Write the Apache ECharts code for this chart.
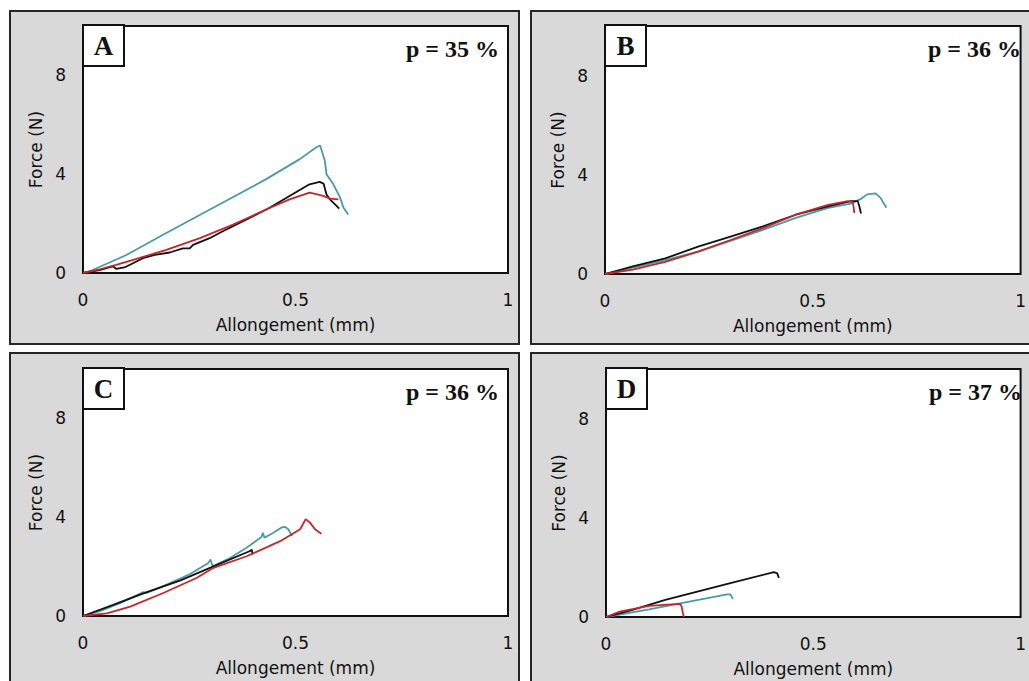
<!DOCTYPE html>
<html>
<head>
<meta charset="utf-8">
<script src="https://cdn.jsdelivr.net/npm/echarts@6.0.0/dist/echarts.min.js"></script>
<style>
html,body{margin:0;padding:0;background:#fff;}
#c{width:1029px;height:681px;}
</style>
</head>
<body>
<div id="c"></div>
<script>
// ---- data (Allongement mm, Force N) ----
const panelLetters = ['A', 'B', 'C', 'D'];
const panelPorosity = ['p = 35 %', 'p = 36 %', 'p = 36 %', 'p = 37 %'];
const xTicks = [0, 0.5, 1];
const yTicks = [0, 4, 8];

const aTeal = [[0,0],[0.02,0.1],[0.102,0.73],[0.196,1.62],[0.314,2.71],[0.431,3.80],[0.51,4.61],[0.549,5.09],[0.558,5.16],[0.569,4.54],[0.573,4.0],[0.589,3.59],[0.605,3.05],[0.613,2.64],[0.624,2.37]];
const aBlack = [[0,0],[0.039,0.12],[0.07,0.27],[0.078,0.17],[0.1,0.24],[0.141,0.60],[0.169,0.73],[0.204,0.83],[0.235,1.0],[0.251,1.0],[0.259,1.14],[0.298,1.41],[0.329,1.69],[0.392,2.23],[0.439,2.64],[0.486,3.12],[0.533,3.59],[0.557,3.69],[0.566,3.62],[0.573,3.18],[0.581,2.98],[0.593,2.78],[0.603,2.61]];
const aRed = [[0,0],[0.039,0.15],[0.078,0.33],[0.118,0.53],[0.196,0.94],[0.275,1.41],[0.353,1.96],[0.431,2.57],[0.486,2.98],[0.533,3.25],[0.549,3.19],[0.565,3.12],[0.581,3.01],[0.601,2.98]];

const bTeal = [[0,0],[0.067,0.26],[0.145,0.56],[0.224,0.90],[0.302,1.33],[0.38,1.78],[0.459,2.26],[0.537,2.67],[0.592,2.84],[0.616,3.03],[0.631,3.21],[0.651,3.25],[0.663,3.07],[0.677,2.67]];
const bBlack = [[0,0],[0.067,0.31],[0.145,0.63],[0.224,1.10],[0.302,1.51],[0.38,1.92],[0.459,2.39],[0.537,2.73],[0.592,2.94],[0.608,2.94],[0.612,2.73],[0.616,2.44]];
const bRed = [[0,0],[0.067,0.18],[0.145,0.49],[0.224,0.90],[0.302,1.37],[0.38,1.85],[0.459,2.39],[0.537,2.79],[0.584,2.94],[0.596,2.90],[0.598,2.73],[0.6,2.46]];

const cTeal = [[0,0],[0.04,0.20],[0.087,0.52],[0.142,0.97],[0.15,0.93],[0.197,1.27],[0.252,1.70],[0.295,2.15],[0.3,2.29],[0.305,2.01],[0.346,2.35],[0.385,2.76],[0.42,3.2],[0.423,3.37],[0.427,3.17],[0.448,3.37],[0.467,3.58],[0.475,3.61],[0.483,3.51],[0.492,3.24]];
const cBlack = [[0,0],[0.071,0.45],[0.15,0.97],[0.228,1.43],[0.307,2.01],[0.393,2.63],[0.397,2.69],[0.399,2.49]];
const cRed = [[0,0],[0.056,0.11],[0.111,0.38],[0.189,0.93],[0.267,1.54],[0.307,1.95],[0.385,2.42],[0.464,3.03],[0.511,3.51],[0.524,3.92],[0.534,3.78],[0.546,3.51],[0.554,3.41],[0.561,3.33]];

const dTeal = [[0,0],[0.104,0.31],[0.182,0.56],[0.292,0.91],[0.3,0.91],[0.306,0.72]];
const dBlack = [[0,0],[0.064,0.29],[0.143,0.69],[0.3,1.37],[0.405,1.81],[0.413,1.76],[0.417,1.58]];
const dRed = [[0,0],[0.033,0.22],[0.104,0.45],[0.178,0.53],[0.182,0.45],[0.186,0.12],[0.188,0]];

const panelSeries = [
  [aTeal, aBlack, aRed],
  [bTeal, bBlack, bRed],
  [cTeal, cBlack, cRed],
  [dTeal, dBlack, dRed]
];

// ---- layout & style ----
const colors = ['#4a9aa6', '#111111', '#c0282d'];
const boxes = [
  {x: 10, y: 11, w: 509, h: 333},
  {x: 531, y: 11, w: 520, h: 333},
  {x: 10, y: 353, w: 509, h: 340},
  {x: 531, y: 353, w: 520, h: 340}
];
const plots = [
  {left: 83, top: 26, width: 425, height: 247},
  {left: 605, top: 26, width: 425, height: 248},
  {left: 83, top: 369, width: 425, height: 247},
  {left: 606, top: 369, width: 425, height: 248}
];
const tickFont = 'DejaVu Sans';

const grid = [], xAxis = [], yAxis = [], series = [], graphic = [];
plots.forEach((p, i) => {
  grid.push({left: p.left, top: p.top, width: p.width, height: p.height,
    show: true, backgroundColor: '#ffffff', borderColor: '#111', borderWidth: 2, containLabel: false});
  xAxis.push({type: 'value', gridIndex: i, min: xTicks[0], max: xTicks[xTicks.length - 1], interval: xTicks[1] - xTicks[0],
    axisLine: {show: false}, axisTick: {show: false}, splitLine: {show: false},
    axisLabel: {color: '#111', fontFamily: tickFont, fontSize: 17, margin: 18},
    name: 'Allongement (mm)', nameLocation: 'middle', nameGap: 43,
    nameTextStyle: {color: '#111', fontFamily: tickFont, fontSize: 17}});
  yAxis.push({type: 'value', gridIndex: i, min: 0, max: 10, interval: yTicks[1] - yTicks[0],
    axisLine: {show: false}, axisTick: {show: false}, splitLine: {show: false},
    axisLabel: {color: '#111', fontFamily: tickFont, fontSize: 17, margin: 17, showMaxLabel: false},
    name: 'Force (N)', nameLocation: 'middle', nameGap: 39,
    nameTextStyle: {color: '#111', fontFamily: tickFont, fontSize: 17}});
  panelSeries[i].forEach((d, k) => {
    series.push({type: 'line', xAxisIndex: i, yAxisIndex: i, data: d, showSymbol: false, symbol: 'none',
      smooth: false, lineStyle: {color: colors[k], width: 1.8}, z: 3 + k, silent: true, animation: false});
  });
  const b = boxes[i];
  graphic.push({type: 'rect', z: -5, silent: true, shape: {x: b.x, y: b.y, width: b.w, height: b.h},
    style: {fill: '#d9d9d9', stroke: '#262626', lineWidth: 2}});
  graphic.push({type: 'rect', z: 50, silent: true, shape: {x: p.left, y: p.top - 1, width: 41, height: 41},
    style: {fill: '#ffffff', stroke: '#111', lineWidth: 2}});
  graphic.push({type: 'text', z: 51, silent: true, x: p.left + 20.5, y: p.top + 20,
    style: {text: panelLetters[i], fill: '#111', font: 'bold 27px "Liberation Serif"', textAlign: 'center', textVerticalAlign: 'middle'}});
  graphic.push({type: 'text', z: 51, silent: true, x: p.left + 416, y: p.top + 23,
    style: {text: panelPorosity[i], fill: '#111', font: 'bold 24px "Liberation Serif"', textAlign: 'right', textVerticalAlign: 'middle'}});
});

const chart = echarts.init(document.getElementById('c'), null, {renderer: 'svg', width: 1029, height: 681});
chart.setOption({
  animation: false,
  backgroundColor: '#ffffff',
  grid, xAxis, yAxis, series, graphic
});
</script>
</body>
</html>
